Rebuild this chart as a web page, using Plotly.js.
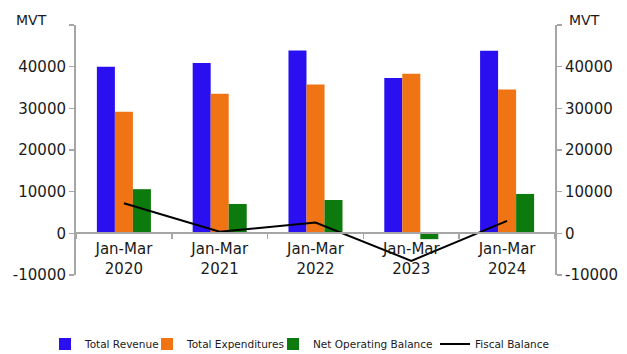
<!DOCTYPE html>
<html>
<head>
<meta charset="utf-8">
<script src="https://cdn.plot.ly/plotly-3.0.1.min.js"></script>
<style>
html,body{margin:0;padding:0;background:#fff;}
#chart{width:627px;height:354px;}
</style>
</head>
<body>
<div id="chart"></div>
<script>
var categories = ["Jan-Mar<br>2020", "Jan-Mar<br>2021", "Jan-Mar<br>2022", "Jan-Mar<br>2023", "Jan-Mar<br>2024"];
var totalRevenue = [40000, 40900, 43900, 37300, 43800];
var totalExpenditures = [29200, 33500, 35700, 38300, 34500];
var netOperatingBalance = [10600, 7050, 8000, -1400, 9450];
var fiscalBalance = [7200, 400, 2600, -6600, 3000];
var yTickVals = [-10000, 0, 10000, 20000, 30000, 40000, 50000];
var yTickText = ["-10000", "0", "10000", "20000", "30000", "40000", ""];
var unitLabel = "MVT";

var FONT = "DejaVu Sans, sans-serif";
var AXIS = "#a6a6a6";
var TXT = "#1a1a1a";

var traces = [
  {type: "bar", name: "Total Revenue", x: categories, y: totalRevenue, marker: {color: "#2a10f0"}, legend: "legend"},
  {type: "bar", name: "Total Expenditures", x: categories, y: totalExpenditures, marker: {color: "#f07414"}, legend: "legend2"},
  {type: "bar", name: "Net Operating Balance", x: categories, y: netOperatingBalance, marker: {color: "#0c7a0c"}, legend: "legend3"},
  {type: "scatter", mode: "lines", name: "Fiscal Balance", x: categories, y: fiscalBalance, yaxis: "y2",
   line: {color: "#000000", width: 2}, legend: "legend4"}
];

var yCommon = {
  range: [-10000, 50000], tickvals: yTickVals, ticktext: yTickText,
  showgrid: false, zeroline: false, showline: true, linecolor: AXIS, linewidth: 2,
  ticks: "outside", ticklen: 5, tickcolor: AXIS, tickwidth: 1.5,
  tickfont: {family: FONT, size: 15, color: TXT}, fixedrange: true
};

function leg(px) {
  return {orientation: "h", xref: "container", yref: "container", x: px / 627, xanchor: "left",
          y: 1 - 344 / 354, yanchor: "middle", bgcolor: "rgba(0,0,0,0)",
          font: {family: FONT, size: 10.5, color: TXT}, itemwidth: 30};
}

var layout = {
  width: 627, height: 354,
  margin: {l: 76, r: 72, t: 25, b: 79},
  paper_bgcolor: "#ffffff", plot_bgcolor: "#ffffff",
  barmode: "group", bargap: 0.436, bargroupgap: 0,
  showlegend: true,
  legend: leg(45),
  legend2: leg(147),
  legend3: leg(273),
  legend4: leg(435),
  xaxis: {
    type: "category", anchor: "free", position: 1/6,
    showline: true, linecolor: AXIS, linewidth: 2,
    ticks: "outside", tickson: "boundaries", ticklen: 5, tickcolor: AXIS, tickwidth: 1.5,
    ticklabelstandoff: 2,
    showgrid: false, zeroline: false,
    tickfont: {family: FONT, size: 15, color: TXT}, fixedrange: true
  },
  yaxis: Object.assign({}, yCommon, {side: "left"}),
  yaxis2: Object.assign({}, yCommon, {side: "right", overlaying: "y"}),
  annotations: [
    {text: unitLabel, xref: "paper", yref: "paper", x: -0.092, y: 1.02, xanchor: "center", yanchor: "middle",
     showarrow: false, font: {family: FONT, size: 14, color: TXT}},
    {text: unitLabel, xref: "paper", yref: "paper", x: 1.062, y: 1.02, xanchor: "center", yanchor: "middle",
     showarrow: false, font: {family: FONT, size: 14, color: TXT}}
  ]
};

Plotly.newPlot("chart", traces, layout, {displayModeBar: false, staticPlot: true});
</script>
</body>
</html>
